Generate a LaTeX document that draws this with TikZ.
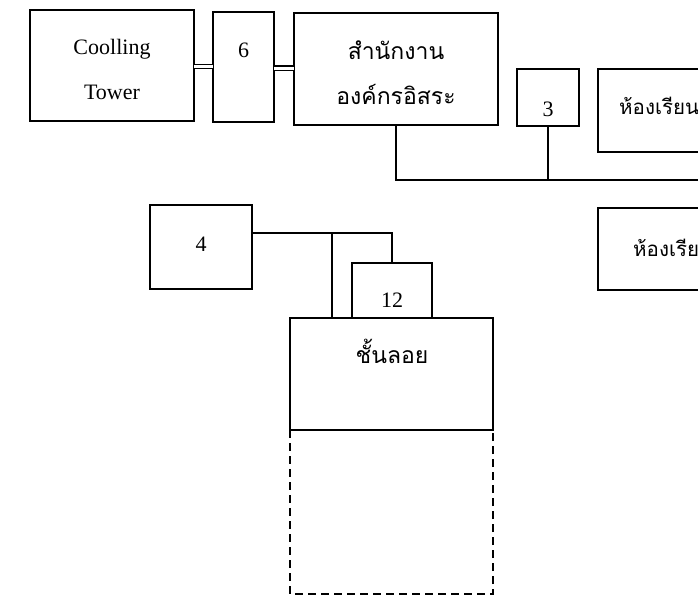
\documentclass[tikz,border=0pt]{standalone}
\usepackage{fontspec}
\setmainfont{Liberation Serif}
\newfontfamily\thai[Script=Thai]{Loma}
\usetikzlibrary{positioning}

\begin{document}
\begin{tikzpicture}[x=1pt,y=-1pt]
  \tikzset{box/.style={draw,line width=1.3pt,inner sep=0,outer sep=0,
      align=center,font=\fontsize{22}{45}\selectfont}}
  \tikzset{thaitext/.style={font=\thai\fontsize{23}{45}\selectfont}}
  \tikzset{roomtext/.style={font=\thai\fontsize{20.5}{25}\selectfont,anchor=west,inner xsep=0}}
  \tikzset{pipe/.style={line width=1.2pt,double,double distance=3pt}}
  \tikzset{wire/.style={line width=1.3pt}}
  \useasboundingbox (0,0) rectangle (698,603);
  \clip (0,0) rectangle (698,603);
  \node[box,minimum width=164,minimum height=111](ct) at (112,65.5)
    {\rule{0pt}{23pt}Coolling\\Tower};
  \node[box,minimum width=61,minimum height=110,text height=0pt,text depth=20pt](b6) at (243.5,67) {6};
  \node[box,thaitext,minimum width=204,minimum height=112](off) at (396,69)
    {\rule{0pt}{27pt}สำนักงาน\\องค์กรอิสระ};
  \node[box,minimum width=62,minimum height=57,text height=37pt,text depth=0pt](b3) at (548,97.5) {3};
  \node[box,minimum width=140,minimum height=83](cls) at (668,110.5) {};
  \node[roomtext](clst) at (619,106) {ห้องเรียน};
  \node[box,minimum width=140,minimum height=82](cls2) at (668,249) {};
  \node[roomtext](clst2) at (633,248) {ห้องเรียน};
  \node[box,minimum width=102,minimum height=84,text height=8pt,text depth=0pt](b4) at (201,247) {4};
  \node[box,minimum width=80,minimum height=55,text height=34pt,text depth=0pt](b12) at (392,290.5) {12};
  \node[box,minimum width=203,minimum height=112](fl) at (391.5,374) {};
  \node[thaitext](flt) at (392,351) {ชั้นลอย};
  \coordinate(bus) at (698,180);
  \coordinate(tee) at (332,233);
  \coordinate(base) at (391,594);
  \draw[pipe] (ct.east |- 0,66.5) -- (b6.west |- 0,66.5);
  \draw[pipe] (b6.east |- 0,68) -- (off.west |- 0,68);
  \draw[wire] (off.south) |- (bus);
  \draw[wire] (b3.south) -- (b3.south |- bus);
  \draw[wire] (b4.east |- tee) -| (b12.north);
  \draw[wire] (tee) -- (tee |- fl.north);
  \draw[wire,dash pattern=on 8pt off 5pt] (fl.south west) |- (base) -| (fl.south east);
\end{tikzpicture}
\end{document}
